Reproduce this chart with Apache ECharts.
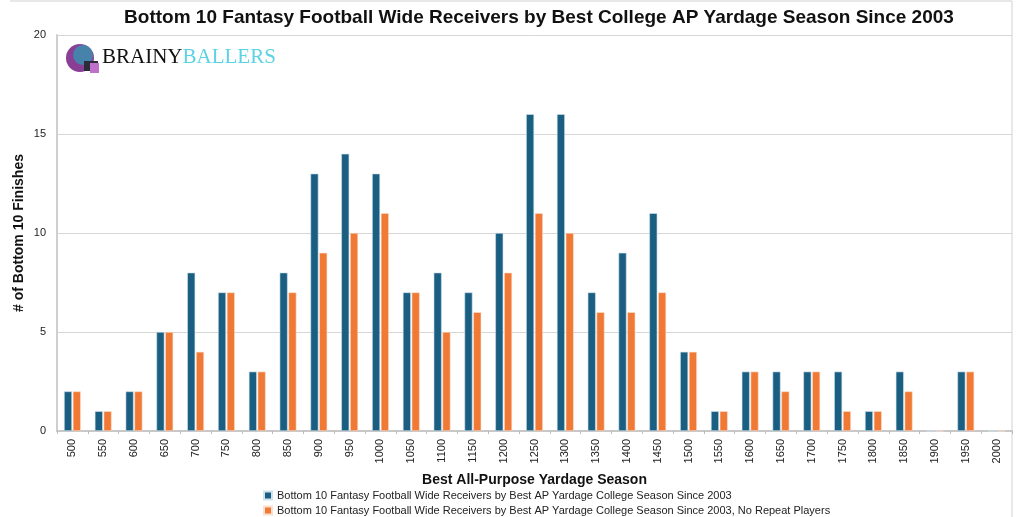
<!DOCTYPE html>
<html><head><meta charset="utf-8">
<script src="https://cdn.jsdelivr.net/npm/echarts@6/dist/echarts.min.js"></script>
<style>html,body{margin:0;padding:0;background:#fff}#c{width:1024px;height:517px}</style>
</head><body><div id="c"></div>
<script>
const categories = ['500','550','600','650','700','750','800','850','900','950','1000','1050','1100','1150','1200','1250','1300','1350','1400','1450','1500','1550','1600','1650','1700','1750','1800','1850','1900','1950','2000'];
const allSeasons = [2,1,2,5,8,7,3,8,13,14,13,7,8,7,10,16,16,7,9,11,4,1,3,3,3,3,1,3,0,3,0];
const noRepeat = [2,1,2,5,4,7,3,7,9,10,11,7,5,6,8,11,10,6,6,7,4,1,3,2,3,1,1,2,0,3,0];
const yTicks = [0,5,10,15,20];
const seriesNames = ['Bottom 10 Fantasy Football Wide Receivers by Best AP Yardage College Season Since 2003','Bottom 10 Fantasy Football Wide Receivers by Best AP Yardage College Season Since 2003, No Repeat Players'];

const chart = echarts.init(document.getElementById('c'));
const font = 'Helvetica, Arial, "Liberation Sans", sans-serif';
const legendBase = {
  orient: 'horizontal', left: 258, itemWidth: 8, itemHeight: 8, icon: 'rect',
  textStyle: {fontFamily: font, fontSize: 11, color: '#222'}
};
chart.setOption({
  animation: false,
  textStyle: {fontFamily: font},
  title: {
    text: 'Bottom 10 Fantasy Football Wide Receivers by Best College AP Yardage Season Since 2003',
    left: 534, top: 3, textAlign: 'center',
    textStyle: {fontFamily: font, fontWeight: 'bold', fontSize: 19, color: '#111'}
  },
  legend: [
    Object.assign({}, legendBase, {top: 485, data: [seriesNames[0]]}),
    Object.assign({}, legendBase, {top: 500, data: [seriesNames[1]]})
  ],
  grid: {left: 57, right: 12, top: 35, bottom: 86, containLabel: false},
  xAxis: {
    type: 'category', data: categories,
    name: 'Best All-Purpose Yardage Season', nameLocation: 'middle', nameGap: 42,
    nameMoveOverlap: false,
    nameTextStyle: {fontFamily: font, fontWeight: 'bold', fontSize: 14, color: '#111'},
    axisLine: {lineStyle: {color: '#c8c8c8', width: 2}},
    axisTick: {show: true, length: 3, lineStyle: {color: '#bbb'}},
    axisLabel: {rotate: 90, fontSize: 11, color: '#222', margin: 8, interval: 0}
  },
  yAxis: {
    type: 'value', min: 0, max: 20, interval: 5,
    name: '# of Bottom 10 Finishes', nameLocation: 'middle', nameGap: 31,
    nameMoveOverlap: false,
    nameTextStyle: {fontFamily: font, fontWeight: 'bold', fontSize: 14, color: '#111'},
    axisLine: {show: true, lineStyle: {color: '#cfcfcf', width: 2}},
    axisTick: {show: false},
    splitLine: {lineStyle: {color: '#d6d6d6', width: 1}},
    axisLabel: {fontSize: 11, color: '#222', margin: 11,
      formatter: v => yTicks.includes(v) ? String(v) : ''}
  },
  series: [
    {name: seriesNames[0], type: 'bar', data: allSeasons, barWidth: 8, barGap: '10%',
     itemStyle: {color: '#1a5f82', borderColor: '#cfe3ee', borderWidth: 0.6}},
    {name: seriesNames[1], type: 'bar', data: noRepeat, barWidth: 8,
     itemStyle: {color: '#ef7935', borderColor: '#fbe0d0', borderWidth: 0.6}}
  ],
  graphic: [
    {type: 'line', shape: {x1: 10, y1: 1, x2: 1012, y2: 1}, style: {stroke: '#d0d0d0', lineWidth: 1}},
    {type: 'line', shape: {x1: 1012, y1: 1, x2: 1012, y2: 517}, style: {stroke: '#d0d0d0', lineWidth: 1}},
    {type: 'circle', shape: {cx: 80, cy: 58, r: 14}, style: {fill: '#8a3f96'}},
    {type: 'circle', shape: {cx: 83, cy: 55, r: 10}, style: {fill: '#2a9fb0', opacity: 0.7}},
    {type: 'rect', shape: {x: 84, y: 61, width: 14, height: 10}, style: {fill: '#2b2b3a'}},
    {type: 'rect', shape: {x: 90, y: 63, width: 9, height: 10}, style: {fill: '#c070c8'}},
    {type: 'text', left: 102, top: 47, style: {
      text: '{a|BRAINY}{b|BALLERS}',
      rich: {a: {fontFamily: '"Liberation Serif", "Times New Roman", serif', fontSize: 21, fill: '#111'},
             b: {fontFamily: '"Liberation Serif", "Times New Roman", serif', fontSize: 21, fill: '#5ad3e3'}}
    }}
  ]
});
</script></body></html>
